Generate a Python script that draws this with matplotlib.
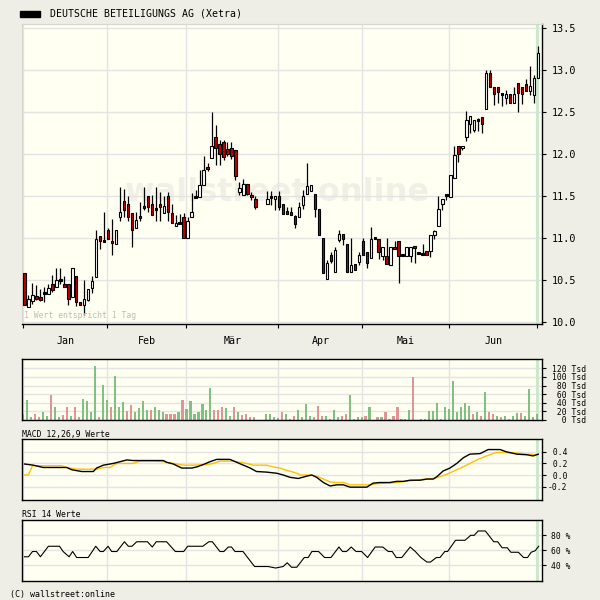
import matplotlib
matplotlib.use("Agg")
import matplotlib.pyplot as plt
from matplotlib.patches import Rectangle

MONO = "DejaVu Sans Mono"

title = "DEUTSCHE BETEILIGUNGS AG (Xetra)"
months = ["Jan", "Feb", "Mär", "Apr", "Mai", "Jun"]
month_starts = [-0.3, 20.8, 40.6, 63.8, 84.9, 106.7, 128.8]

# daily OHLC (None = no trading data)
opens = [
    10.58, 10.18, 10.25, 10.31, 10.29, 10.35, 10.34, 10.45, 10.42, 10.50,
    10.45, 10.45, 10.30, 10.55, 10.24, 10.20, 10.26, 10.41, 10.54, 11.03,
    10.97, 11.10, 10.96, 10.93, 11.25, 11.44, 11.40, 11.30, 11.12, 11.26,
    11.38, 11.50, 11.40, 11.35, 11.40, 11.30, 11.50, 11.30, 11.14, 11.18,
    11.25, 11.00, 11.25, 11.49, 11.49, 11.63, 11.85, 11.95, 12.20, 12.12,
    12.14, 12.06, 12.07, 12.05, 11.55, 11.51, 11.64, 11.51, 11.46, None,
    None, 11.40, 11.49, 11.47, 11.50, 11.40, 11.32, 11.30, 11.26, 11.25,
    11.39, 11.53, 11.56, 11.53, 11.35, 11.00, 10.51, 10.80, 10.60, 10.98,
    11.05, 10.93, 10.60, 10.69, 10.72, 10.96, 10.84, 10.76, 11.00, 10.99,
    10.79, 10.79, 10.68, 10.90, 10.96, 10.80, 10.79, 10.79, 10.90, 10.82,
    10.81, 10.85, 10.85, 11.04, 11.14, 11.40, 11.51, 11.49, 11.71, 12.09,
    12.07, 12.20, 12.35, 12.29, 12.40, 12.44, 12.53, 12.96, 12.80, 12.80,
    12.71, 12.66, 12.71, 12.60, 12.84, 12.79, 12.83, 12.75, 12.70, 12.90,
]
highs = [
    10.58, 10.32, 10.47, 10.44, 10.40, 10.42, 10.46, 10.56, 10.65, 10.64,
    10.55, 10.45, 10.65, 10.55, 10.24, 10.50, 10.39, 10.55, 11.10, 11.03,
    11.31, 11.12, 11.23, 11.10, 11.61, 11.58, 11.50, 11.30, 11.31, 11.43,
    11.61, 11.50, 11.51, 11.61, 11.55, 11.50, 11.55, 11.41, 11.28, 11.29,
    11.30, 11.25, 11.54, 11.57, 11.81, 11.97, 11.89, 12.50, 12.34, 12.17,
    12.17, 12.14, 12.14, 12.05, 11.67, 11.70, 11.64, 11.55, 11.50, None,
    None, 11.56, 11.56, 11.49, 11.56, 11.40, 11.37, 11.37, 11.28, 11.43,
    11.57, 11.89, 11.63, 11.53, 11.35, 11.00, 10.74, 10.83, 10.89, 11.10,
    11.05, 10.93, 11.00, 10.69, 10.84, 11.00, 10.84, 11.13, 11.01, 10.99,
    10.89, 11.00, 10.90, 10.96, 10.96, 10.81, 10.90, 10.90, 10.90, 10.83,
    10.93, 10.85, 11.04, 11.10, 11.50, 11.47, 11.52, 11.75, 12.10, 12.10,
    12.10, 12.51, 12.45, 12.40, 12.43, 12.44, 13.00, 13.00, 12.80, 12.80,
    12.71, 12.76, 12.71, 12.80, 12.84, 12.79, 12.89, 13.04, 12.94, 13.28,
]
lows = [
    10.21, 10.18, 10.22, 10.26, 10.25, 10.24, 10.34, 10.36, 10.42, 10.46,
    10.42, 10.21, 10.30, 10.19, 10.20, 10.09, 10.25, 10.35, 10.54, 10.87,
    10.97, 10.99, 10.80, 10.93, 11.20, 11.25, 11.20, 10.90, 11.12, 11.20,
    11.34, 11.31, 11.27, 11.20, 11.20, 11.30, 11.20, 11.18, 11.14, 11.17,
    11.00, 11.00, 11.25, 11.49, 11.49, 11.63, 11.80, 11.95, 11.87, 11.87,
    11.93, 11.98, 11.94, 11.69, 11.51, 11.51, 11.51, 11.45, 11.35, None,
    None, 11.40, 11.39, 11.33, 11.33, 11.29, 11.29, 11.27, 11.12, 11.25,
    11.35, 11.53, 11.56, 11.25, 11.04, 10.59, 10.51, 10.70, 10.60, 10.95,
    10.92, 10.60, 10.60, 10.62, 10.68, 10.80, 10.65, 10.76, 10.99, 10.75,
    10.74, 10.69, 10.68, 10.87, 10.47, 10.79, 10.79, 10.72, 10.71, 10.81,
    10.80, 10.80, 10.78, 10.99, 11.14, 11.33, 11.45, 11.49, 11.71, 11.90,
    12.05, 12.15, 12.25, 12.26, 12.27, 12.25, 12.53, 12.80, 12.58, 12.60,
    12.57, 12.59, 12.60, 12.60, 12.50, 12.59, 12.75, 12.70, 12.60, 12.90,
]
closes = [
    10.21, 10.28, 10.32, 10.28, 10.27, 10.35, 10.41, 10.38, 10.50, 10.50,
    10.42, 10.28, 10.65, 10.24, 10.20, 10.28, 10.39, 10.49, 10.99, 10.97,
    10.97, 10.99, 10.94, 11.10, 11.31, 11.34, 11.25, 11.10, 11.22, 11.24,
    11.36, 11.37, 11.27, 11.35, 11.37, 11.38, 11.31, 11.18, 11.18, 11.18,
    11.00, 11.20, 11.31, 11.49, 11.63, 11.81, 11.82, 12.10, 12.07, 12.00,
    11.96, 12.00, 11.98, 11.74, 11.60, 11.64, 11.52, 11.49, 11.37, None,
    None, 11.47, 11.49, 11.49, 11.37, 11.29, 11.29, 11.28, 11.17, 11.37,
    11.50, 11.62, 11.63, 11.35, 11.04, 10.59, 10.70, 10.73, 10.86, 11.05,
    10.99, 10.60, 10.68, 10.62, 10.80, 10.80, 10.70, 10.99, 11.00, 10.83,
    10.89, 10.69, 10.90, 10.87, 10.79, 10.80, 10.90, 10.90, 10.88, 10.82,
    10.81, 10.80, 11.04, 11.08, 11.35, 11.47, 11.51, 11.75, 11.99, 12.00,
    12.10, 12.40, 12.45, 12.40, 12.40, 12.36, 12.96, 12.80, 12.71, 12.73,
    12.71, 12.71, 12.60, 12.71, 12.72, 12.71, 12.75, 12.81, 12.90, 13.20,
]

# daily turnover in thousands of shares, with up/down day flags
volume_tsd = [
    14, 46, 7, 14, 7, 19, 10, 58, 30, 7,
    12, 30, 10, 30, 7, 48, 43, 18, 126, 6,
    82, 46, 31, 102, 30, 41, 20, 34, 18, 27,
    43, 24, 24, 30, 24, 18, 14, 14, 14, 18,
    46, 26, 43, 14, 19, 36, 24, 75, 24, 22,
    29, 27, 10, 31, 19, 12, 14, 6, 6, None,
    None, 14, 14, 7, 5, 19, 14, 3, 10, 24,
    6, 38, 8, 6, 32, 10, 8, 3, 22, 6,
    10, 13, 58, 1, 6, 6, 8, 30, 0.5, 6,
    6, 18, 3, 8, 30, 1, 1, 22, 99, 0.5,
    3, 3, 20, 20, 39, 3, 30, 25, 90, 18,
    30, 39, 32, 13, 18, 8, 66, 18, 13, 8,
    6, 8, 1, 10, 15, 15, 10, 73, 6, 13,
]
volume_dir = "".join([
    "duudduuduu", "ddudduuuud", "uuduuudduu", "uuduuudddu",
    "duuuuuuudd", "duududddd-", "-uuudduddu", "uuuddduuuu",
    "dduduuduud", "ududduuudd", "dduuuuuuuu", "uuudududdu",
    "duduuduuuu",
])

# MACD (12,26,9): MACD line and signal line
macd_x = [
    0, 2.2, 4.7, 9.3, 10.6, 11.9, 14.4, 17.3, 18.1, 19.8,
    22.3, 24, 25.7, 27.3, 34.9, 35.7, 37.4, 39.5, 42, 43.3,
    44.9, 46.6, 48.3, 51.6, 53.3, 55, 56.7, 58.3, 60.8, 63.4,
    65, 66.7, 68.8, 70.9, 72.2, 73.4, 75.1, 76.8, 78.4, 80.1,
    81.8, 86, 87.6, 89.3, 91.8, 93.5, 95.2, 96.9, 99.4, 101.1,
    102.7, 103.6, 105.2, 106.9, 108.6, 110.3, 111.9, 114.5, 116.5, 119.5,
    121.1, 123.7, 126.2, 127.8, 129.1,
]
macd_vals = [
    0.19, 0.17, 0.13, 0.13, 0.13, 0.09, 0.06, 0.06, 0.12, 0.17,
    0.20, 0.23, 0.26, 0.25, 0.25, 0.22, 0.19, 0.12, 0.12, 0.14,
    0.18, 0.23, 0.27, 0.27, 0.22, 0.17, 0.12, 0.06, 0.05, 0.03,
    0.0, -0.04, -0.06, -0.02, 0.0, -0.04, -0.13, -0.19, -0.17, -0.17,
    -0.21, -0.21, -0.14, -0.13, -0.13, -0.11, -0.11, -0.09, -0.09, -0.07,
    -0.07, -0.03, 0.07, 0.12, 0.20, 0.30, 0.36, 0.37, 0.44, 0.44,
    0.40, 0.36, 0.35, 0.33, 0.36,
]
signal_x = [
    0, 1, 2, 9.3, 10.6, 13.1, 18.1, 19.8, 21.5, 23.2,
    27.3, 29, 32.4, 34.9, 37.4, 39.9, 42.4, 45.8, 47.4, 49.1,
    52.5, 54.1, 55.8, 57.5, 60.8, 62.5, 64.2, 65.9, 67.5, 68.8,
    69.2, 71.7, 73.4, 75.1, 76.8, 78.4, 80.1, 81.8, 86.8, 88.5,
    91, 93.5, 96.9, 99.4, 102.7, 104.4, 106, 108.6, 111.1, 113.6,
    116.1, 118.6, 121.1, 123.7, 126.2, 128.7,
]
signal_vals = [
    0.0, 0.0, 0.16, 0.16, 0.13, 0.10, 0.10, 0.13, 0.13, 0.20,
    0.20, 0.24, 0.24, 0.23, 0.20, 0.17, 0.17, 0.18, 0.20, 0.24,
    0.24, 0.22, 0.20, 0.17, 0.17, 0.14, 0.12, 0.08, 0.05, 0.02,
    0.0, 0.0, -0.02, -0.07, -0.12, -0.13, -0.13, -0.17, -0.17, -0.15,
    -0.14, -0.13, -0.10, -0.08, -0.06, -0.03, 0.01, 0.09, 0.17, 0.26,
    0.33, 0.39, 0.39, 0.38, 0.36, 0.35,
]

# RSI (14)
rsi_x = [
    0, 1, 2, 3, 4, 5, 6, 8.8, 9.7, 11.2,
    12.1, 13.1, 16, 17.9, 19, 19.8, 21, 21.9, 23.2, 25.1,
    26.1, 27, 28.2, 30.9, 32.1, 33.1, 35.7, 37.9, 40, 41,
    44.8, 46.3, 47.2, 49.1, 50.1, 51.2, 52, 52.9, 54.9, 57.8,
    61.2, 63.1, 65, 66, 67.1, 68.4, 70.3, 71.3, 72.2, 73.9,
    75.4, 77, 79, 79.9, 80.9, 82.1, 83.3, 84.7, 86.2, 88.1,
    90, 91.4, 92.4, 93.4, 94.8, 96.9, 98.2, 99.6, 101.1, 102,
    103.5, 104.4, 105.6, 106.3, 108.3, 110.7, 112.1, 113, 114, 115.8,
    117.9, 118.9, 120, 121.3, 122.2, 124.1, 125.4, 126.4, 127.3, 128.3,
    129.2,
]
rsi_vals = [
    51, 51, 58, 58, 51, 58, 65, 65, 58, 51,
    58, 50, 50, 65, 58, 58, 65, 58, 58, 71,
    65, 65, 71, 71, 64, 71, 71, 58, 58, 65,
    65, 71, 71, 58, 58, 64, 64, 58, 58, 38,
    38, 36, 38, 43, 37, 37, 50, 50, 58, 58,
    50, 50, 64, 58, 58, 64, 58, 58, 50, 64,
    64, 58, 58, 50, 50, 64, 58, 50, 44, 44,
    50, 50, 58, 58, 73, 73, 79.6, 79.6, 85.4, 85.4,
    71, 71, 63, 63, 57, 57, 50, 50, 57, 59,
    65,
]

price_ticks = [10.0, 10.5, 11.0, 11.5, 12.0, 12.5, 13.0, 13.5]
vol_ticks = [0, 20, 40, 60, 80, 100, 120]
macd_ticks = [-0.2, 0.0, 0.2, 0.4]
rsi_ticks = [40, 60, 80]
last_day = 129

# ---------------------------------------------------------------- styling
FIG_BG = "#EEEEE6"
PLOT_BG = "#FFFFF2"
GRID = "#E3E3E3"
RED = "#C00000"
VOL_UP = "#80C080"
VOL_DOWN = "#E09494"
BAND = "#CDE8CD"
XLIM = (-0.63, 130.1)

W = H = 600.0


def box(left, top, right, bottom):
    return [left / W, 1 - bottom / H, (right - left) / W, (bottom - top) / H]


fig = plt.figure(figsize=(6, 6), dpi=100, facecolor=FIG_BG)

ax = fig.add_axes(box(22, 24.3, 542.3, 324), facecolor=PLOT_BG)
ax_v = fig.add_axes(box(22, 359.3, 542.3, 420.3), facecolor=PLOT_BG)
ax_m = fig.add_axes(box(22, 439.3, 542.3, 500), facecolor=PLOT_BG)
ax_r = fig.add_axes(box(22, 520, 542.3, 581), facecolor=PLOT_BG)


def common(a):
    a.set_xlim(*XLIM)
    a.set_axisbelow(True)
    a.set_xticks(month_starts)
    a.grid(True, axis="x", color=GRID, lw=1.0)
    a.axvspan(last_day - 0.45, last_day + 0.35, color=BAND, lw=0, zorder=0.6)
    a.yaxis.tick_right()
    a.tick_params(axis="y", which="both", direction="out", length=3,
                  width=0.8, colors="black", labelsize=5.8)
    a.tick_params(axis="x", which="both", length=0, labelbottom=False)


# ---------------------------------------------------------------- price panel
common(ax)
ax.set_ylim(9.98, 13.54)
ax.set_yticks(price_ticks)
ax.set_yticklabels([f"{v:.1f}" for v in price_ticks], family=MONO, fontsize=7.3)
ax.tick_params(axis="y", pad=3.6)
ax.grid(True, axis="y", color=GRID, lw=1.0)
ax.tick_params(axis="x", which="major", length=3, width=0.8, direction="out")
centers = [(month_starts[k] + month_starts[k + 1]) / 2 for k in range(len(months))]
ax.set_xticks(centers, minor=True)
ax.set_xticklabels(months, minor=True, family=MONO, fontsize=7.2)
ax.tick_params(axis="x", which="minor", length=0, pad=8.5, labelbottom=True)
ax.tick_params(axis="x", which="major", labelbottom=False)
for side in ("left", "top"):
    ax.spines[side].set_color("#D6D6D0")
for side in ("right", "bottom"):
    ax.spines[side].set_color("black")
    ax.spines[side].set_linewidth(1.0)

ax.text(0.49, 0.44, "wallstreet online", transform=ax.transAxes, ha="center",
        va="center", fontsize=23, color="#F0F0E6", fontweight="bold", zorder=0.5)
ax.text(0.003, 0.012, "1 Wert entspricht 1 Tag", transform=ax.transAxes,
        family=MONO, fontsize=5.9, color="#BDBDB8", va="bottom", ha="left")

body_w = 0.62
min_body = 0.026
for i, (o, h, l, c) in enumerate(zip(opens, highs, lows, closes)):
    if o is None:
        continue
    ax.vlines(i, l, h, color="black", lw=0.9, zorder=2)
    if c > o:
        face = "white"
    elif c < o:
        face = RED
    else:
        face = "black"
    lo = min(o, c)
    hgt = max(abs(c - o), min_body)
    if c == o:
        lo -= min_body / 2
    ax.add_patch(Rectangle((i - body_w / 2, lo), body_w, hgt, facecolor=face,
                           edgecolor="black", lw=0.8, zorder=3))

# ---------------------------------------------------------------- volume panel
common(ax_v)
ax_v.set_ylim(-1, 141)
ax_v.set_yticks(vol_ticks)
ax_v.set_yticklabels([f"{v:>3d} Tsd" for v in vol_ticks], family=MONO, fontsize=5.8)
ax_v.tick_params(axis="y", pad=4.0)
ax_v.grid(True, axis="y", color=GRID, lw=1.0)
for i, v in enumerate(volume_tsd):
    if v is None:
        continue
    col = VOL_UP if volume_dir[i] == "u" else VOL_DOWN
    ax_v.bar(i - 0.3, v, width=0.55, color=col, lw=0, zorder=2)

# ---------------------------------------------------------------- MACD panel
common(ax_m)
ax_m.set_ylim(-0.432, 0.617)
ax_m.set_yticks(macd_ticks)
ax_m.set_yticklabels([f"{v:4.1f}" for v in macd_ticks], family=MONO, fontsize=5.8)
ax_m.tick_params(axis="y", pad=0.8)
ax_m.grid(True, axis="y", color=GRID, lw=1.0)
ax_m.plot(signal_x, signal_vals, color="#FFC000", lw=1.0, zorder=2)
ax_m.plot(macd_x, macd_vals, color="black", lw=1.0, zorder=3)

# ---------------------------------------------------------------- RSI panel
common(ax_r)
ax_r.set_ylim(18.7, 100)
ax_r.set_yticks(rsi_ticks)
ax_r.set_yticklabels([f"{v} %" for v in rsi_ticks], family=MONO, fontsize=5.8)
ax_r.tick_params(axis="y", pad=3.2)
ax_r.grid(True, axis="y", color=GRID, lw=1.0)
ax_r.plot(rsi_x, rsi_vals, color="black", lw=0.8, zorder=3)

for a in (ax_v, ax_m, ax_r):
    for s in a.spines.values():
        s.set_color("black")
        s.set_linewidth(1.0)

# ---------------------------------------------------------------- captions
fig.patches.append(Rectangle((20 / W, 1 - 16.7 / H), 20 / W, 6 / H,
                             transform=fig.transFigure, color="black"))
fig.text(50 / W, 1 - 13.8 / H, title, family=MONO, fontsize=7.1, va="center")
fig.text(22 / W, 1 - 434 / H, "MACD 12,26,9 Werte", family=MONO, fontsize=5.9,
         va="center")
fig.text(22 / W, 1 - 514.3 / H, "RSI 14 Werte", family=MONO, fontsize=5.9,
         va="center")
fig.text(10 / W, 1 - 594.3 / H, "(C) wallstreet:online", family=MONO,
         fontsize=6.0, va="center")

fig.savefig("out.png", dpi=100, facecolor=FIG_BG)
